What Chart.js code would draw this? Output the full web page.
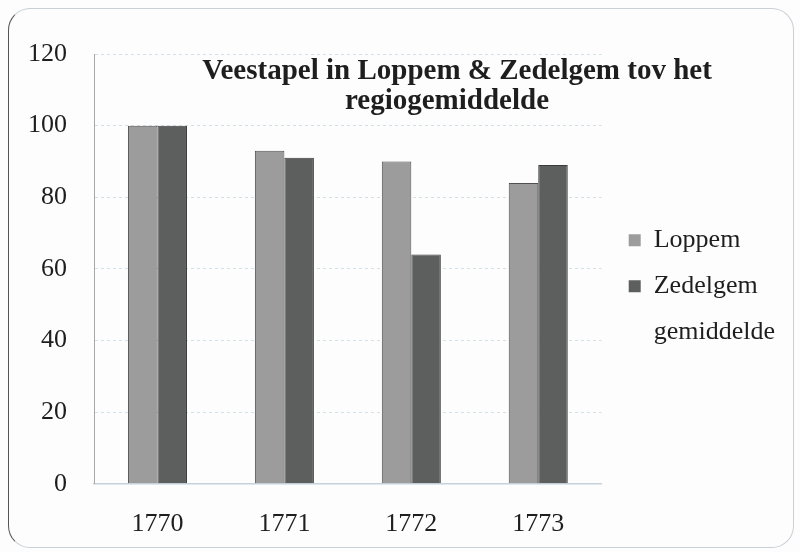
<!DOCTYPE html>
<html>
<head>
<meta charset="utf-8">
<script src="https://cdn.jsdelivr.net/npm/chart.js@4.4.1/dist/chart.umd.min.js"></script>
<style>
  html, body { margin: 0; padding: 0; background: #fdfdfd; }
  #wrap { position: relative; width: 800px; height: 552px; overflow: hidden; }
  #chart { position: absolute; left: 0; top: 0; }
  #frame {
    position: absolute; left: 8px; top: 8px; width: 784px; height: 538px;
    border: 1.5px solid #c9d0d5; border-left-color: #555; border-radius: 22px;
    pointer-events: none;
  }
</style>
</head>
<body>
<div id="wrap">
  <canvas id="chart" width="800" height="552"></canvas>
  <div id="frame"></div>
</div>
<script>
// ──────── DATA ────────
const years = ["1770", "1771", "1772", "1773"];
const loppem = [100, 93, 90, 84];
const zedelgem = [100, 91, 64, 89];
const seriesNames = ["Loppem", ["Zedelgem", "gemiddelde"]];
const titleLines = ["Veestapel in Loppem & Zedelgem tov het", "regiogemiddelde"];
const yTicks = [0, 20, 40, 60, 80, 100, 120];

const serif = "'Liberation Serif', 'DejaVu Serif', serif";
const ink = "#1e1e1e";

// ──────── TITLE (sits inside the plot, over the bars) ────────
const titlePlugin = {
  id: "insideTitle",
  afterDraw(chart) {
    const ctx = chart.ctx;
    ctx.save();
    ctx.font = "bold 29px " + serif;
    ctx.fillStyle = ink;
    ctx.textAlign = "center";
    ctx.textBaseline = "alphabetic";
    ctx.fillText(titleLines[0], 457, 79);
    ctx.fillText(titleLines[1], 447, 109);
    ctx.restore();
  }
};

const ctx = document.getElementById("chart").getContext("2d");
new Chart(ctx, {
  type: "bar",
  data: {
    labels: years,
    datasets: [
      {
        label: "Loppem",
        data: loppem,
        backgroundColor: "#9c9c9c",
        borderColor: "#505050",
        borderWidth: { left: 1, right: 1, top: 1, bottom: 0 },
        borderSkipped: false
      },
      {
        label: "Zedelgem gemiddelde",
        data: zedelgem,
        backgroundColor: "#5c5f5e",
        borderColor: "#3a3a3a",
        borderWidth: { left: 1, right: 1, top: 1, bottom: 0 },
        borderSkipped: false
      }
    ]
  },
  options: {
    responsive: false,
    animation: false,
    categoryPercentage: 0.465,
    barPercentage: 1,
    layout: { padding: { left: 1, top: 28, bottom: -13, right: 15 } },
    plugins: {
      // blank box above the plot only, so the legend keeps the full height
      title: {
        display: true,
        text: " ",
        fullSize: false,
        font: { size: 10, lineHeight: 1 },
        padding: { top: 8, bottom: 8 }
      },
      tooltip: { enabled: false },
      legend: {
        position: "right",
        labels: {
          boxWidth: 12,
          boxHeight: 12,
          padding: 20,
          color: ink,
          font: { family: serif, size: 26, lineHeight: 1.78 },
          generateLabels(chart) {
            return chart.data.datasets.map((ds, i) => ({
              text: seriesNames[i],
              fillStyle: ds.backgroundColor,
              strokeStyle: ds.backgroundColor,
              fontColor: ink,
              lineWidth: 0,
              datasetIndex: i
            }));
          }
        }
      }
    },
    scales: {
      x: {
        grid: { display: false, drawTicks: false },
        border: { display: true, color: "#c6d3dc", width: 1.5 },
        ticks: { color: ink, padding: 25, font: { family: serif, size: 26 } }
      },
      y: {
        min: 0,
        max: 120,
        afterBuildTicks(axis) { axis.ticks = yTicks.map(v => ({ value: v })); },
        grid: { color: "#d4dee5", lineWidth: 1, drawTicks: false },
        border: { display: true, color: "#a8a8a8", dash: [3, 3] },
        ticks: { color: ink, padding: 27, font: { family: serif, size: 26 } }
      },
      // empty spacer between plot and legend
      gap: {
        type: "linear",
        position: "right",
        display: false,
        afterFit(scale) { scale.width = 7; }
      }
    }
  },
  plugins: [titlePlugin]
});
</script>
</body>
</html>
